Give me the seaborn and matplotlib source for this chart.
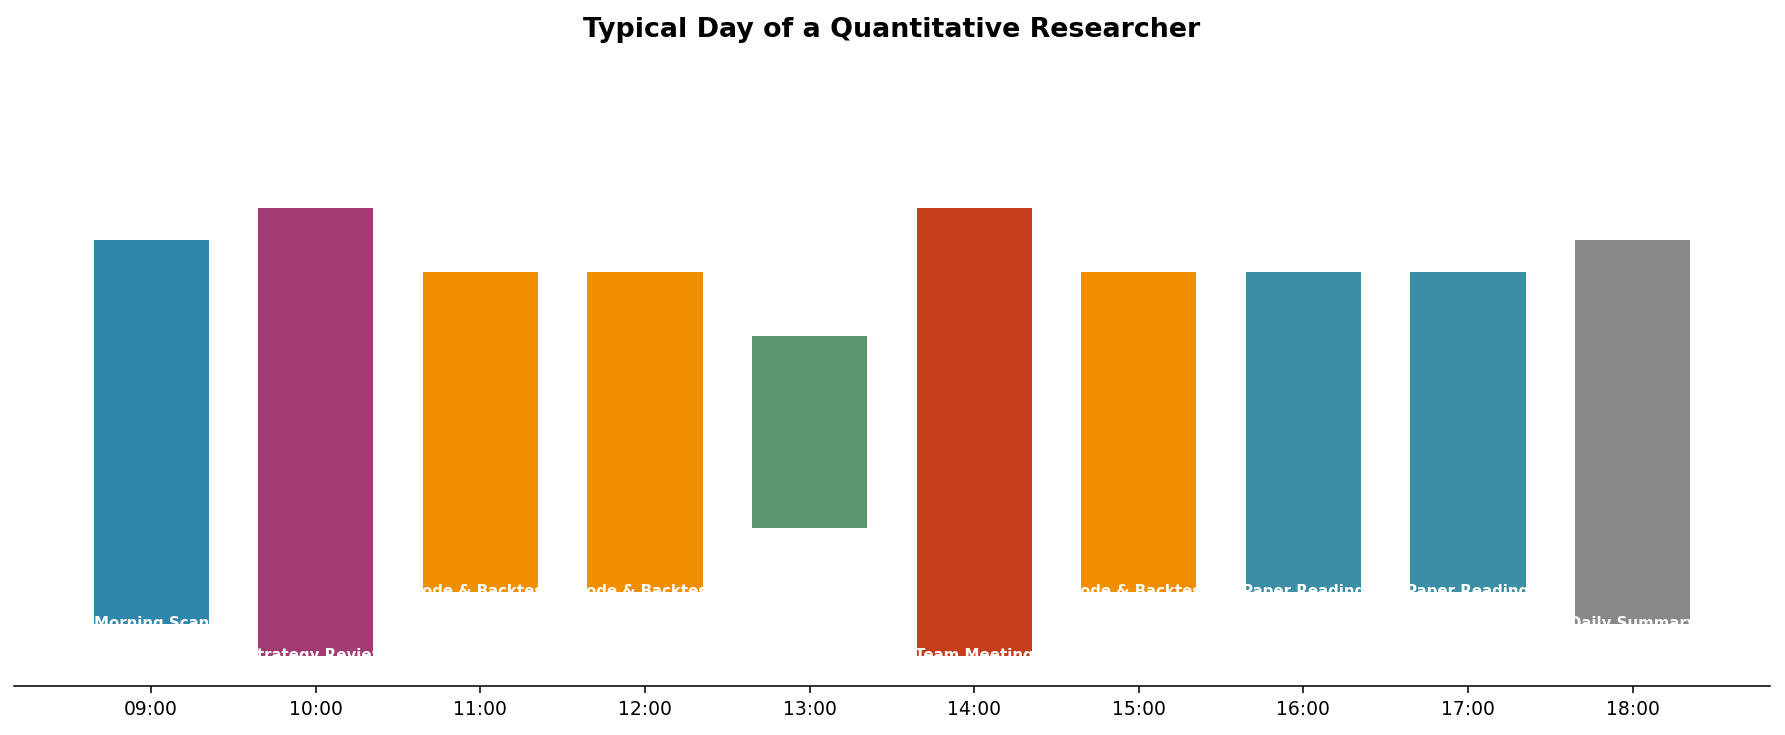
import matplotlib
matplotlib.use("Agg")
import matplotlib.pyplot as plt
import seaborn as sns

hours = [9, 10, 11, 12, 13, 14, 15, 16, 17, 18]
time_labels = ["09:00", "10:00", "11:00", "12:00", "13:00",
               "14:00", "15:00", "16:00", "17:00", "18:00"]
activities = ["Morning Scan", "Strategy Review", "Code & Backtest", "Code & Backtest", "",
              "Team Meeting", "Code & Backtest", "Paper Reading", "Paper Reading", "Daily Summary"]
intensity = [6, 7, 5, 5, 3, 7, 5, 5, 5, 6]
colors = ["#2E86AB", "#A23B72", "#F18F01", "#F18F01", "#5C946E",
          "#C73E1D", "#F18F01", "#3B8EA5", "#3B8EA5", "#888888"]

sns.set_style("ticks")
plt.rcParams['font.family'] = ['DejaVu Sans']

fig = plt.figure(figsize=(11.9, 4.9), dpi=150)
ax = fig.add_axes([0.0077, 0.066, 0.9839, 0.866])

bottoms = [-h / 2 for h in intensity]
ax.bar(hours, intensity, bottom=bottoms, width=0.7, color=colors, edgecolor="none")

for x, b, lab in zip(hours, bottoms, activities):
    ax.text(x, b, lab, ha="center", va="center", color="white",
            fontsize=7.2, fontweight="bold")

ax.set_xticks(hours)
ax.set_xticklabels(time_labels, fontsize=9, color="black")
ax.set_ylim(-3.98, 5.97)
ax.set_yticks([])
ax.tick_params(axis="x", length=3.2, width=0.75, color="black", pad=3.2)
for s in ["left", "top", "right"]:
    ax.spines[s].set_visible(False)
ax.spines["bottom"].set_color("black")
ax.spines["bottom"].set_linewidth(0.75)
ax.set_title("Typical Day of a Quantitative Researcher", fontsize=12.9,
             fontweight="bold", pad=6, color="black")

fig.savefig("out.png", dpi=150)
